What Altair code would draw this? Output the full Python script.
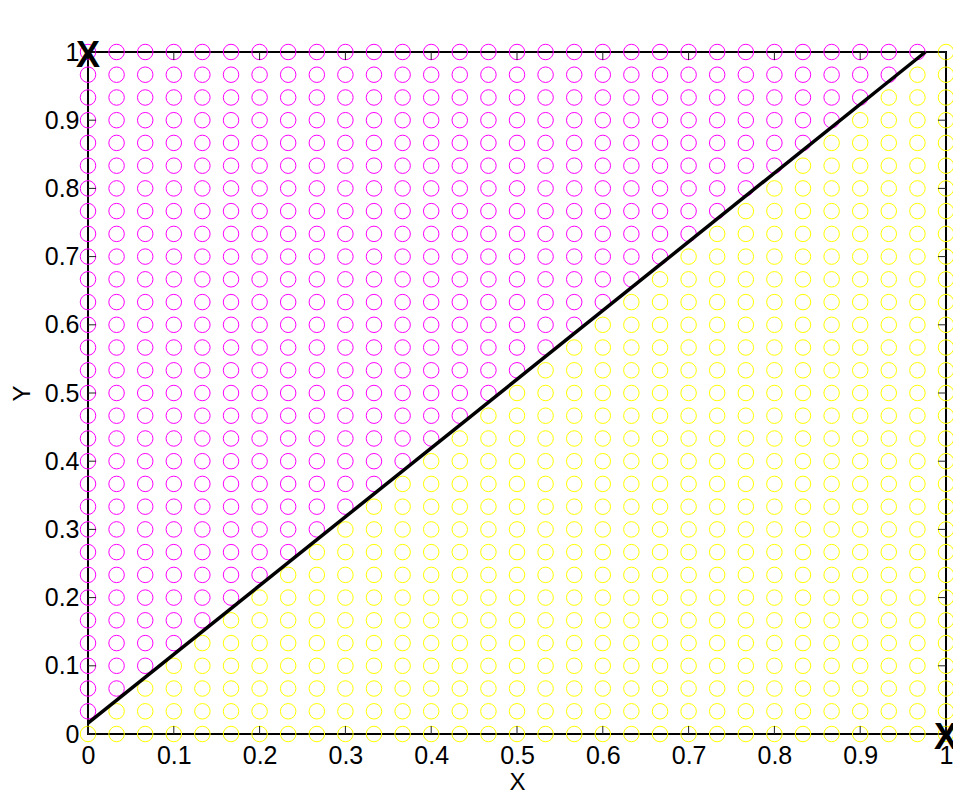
import altair as alt
import pandas as pd

# grid coordinates of the sample points (31 per axis)
grid = [0.0, 0.0333, 0.0667, 0.1, 0.1333, 0.1667, 0.2, 0.2333, 0.2667, 0.3,
        0.3333, 0.3667, 0.4, 0.4333, 0.4667, 0.5, 0.5333, 0.5667, 0.6, 0.6333,
        0.6667, 0.7, 0.7333, 0.7667, 0.8, 0.8333, 0.8667, 0.9, 0.9333, 0.9667, 1.0]

# decision boundary line
boundary_x = [0.0, 0.976]
boundary_y = [0.016, 1.0]

# signal points
signal_x = [0.0, 1.0]
signal_y = [1.0, 0.0]
signal_label = ["X", "X"]

tick_vals = [0.0, 0.1, 0.2, 0.3, 0.4, 0.5, 0.6, 0.7, 0.8, 0.9, 1.0]

region_names = ["s1", "s2"]
region_colors = ["#ff00ff", "#ffff00"]

FONT = "Liberation Sans"

W, H = 858, 682
TICK_PX = 8

rows = []
for gx in grid:
    for gy in grid:
        rows.append({"x": gx, "y": gy, "region": "s1" if gy > gx else "s2"})
pts = pd.DataFrame(rows)

line_df = pd.DataFrame({"x": boundary_x, "y": boundary_y})
sig_df = pd.DataFrame({"x": signal_x, "y": signal_y, "t": signal_label})

lx = TICK_PX / W
ly = TICK_PX / H
trows = []
for t in tick_vals:
    trows.append({"x": t, "x2": t, "y": 0.0, "y2": ly})
    trows.append({"x": t, "x2": t, "y": 1.0, "y2": 1.0 - ly})
    trows.append({"x": 0.0, "x2": lx, "y": t, "y2": t})
    trows.append({"x": 1.0, "x2": 1.0 - lx, "y": t, "y2": t})
ticks_df = pd.DataFrame(trows)

xscale = alt.Scale(domain=[0, 1], nice=False, zero=False)
yscale = alt.Scale(domain=[0, 1], nice=False, zero=False)

xaxis = alt.Axis(values=tick_vals, format=".1~f", labelFlush=False, labelOverlap=False,
                 labelPadding=9, titlePadding=2, title="X")
yaxis = alt.Axis(values=tick_vals, format=".1~f", labelFlush=False, labelOverlap=False,
                 labelPadding=9, titlePadding=10, title="Y")

X = alt.X("x:Q", scale=xscale, axis=xaxis)
Y = alt.Y("y:Q", scale=yscale, axis=yaxis)

points = alt.Chart(pts).mark_point(shape="circle", filled=False, size=240, strokeWidth=1,
                                   opacity=1).encode(
    x=X, y=Y,
    color=alt.Color("region:N", scale=alt.Scale(domain=region_names, range=region_colors),
                    legend=None),
)

line = alt.Chart(line_df).mark_line(color="black", strokeWidth=3.5).encode(x=X, y=Y)

ticks = alt.Chart(ticks_df).mark_rule(color="#222222", strokeWidth=1).encode(
    x=X, y=Y, x2="x2:Q", y2="y2:Q")

signals = alt.Chart(sig_df).mark_text(font=FONT, fontSize=36, fontWeight="bold",
                                      color="black", align="center", baseline="middle",
                                      dy=4).encode(x=X, y=Y, text="t:N")

chart = alt.layer(points, line, ticks, signals).properties(
    width=W, height=H,
    autosize=alt.AutoSizeParams(type="none"),
    padding={"left": 80, "top": 44, "right": 7, "bottom": 60},
    title=alt.TitleParams("Signal Space and Decision Regions", font=FONT, fontSize=26,
                          fontWeight="normal", color="black", anchor="middle",
                          baseline="alphabetic", offset=23),
).configure_view(stroke="black", strokeWidth=2).configure_axis(
    domain=False, ticks=False, grid=False,
    labelFont=FONT, labelFontSize=25, labelColor="black",
    titleFont=FONT, titleFontSize=24, titleFontWeight="normal", titleColor="black",
)

chart.save("out.html", embed_options={"renderer": "svg", "actions": False})
